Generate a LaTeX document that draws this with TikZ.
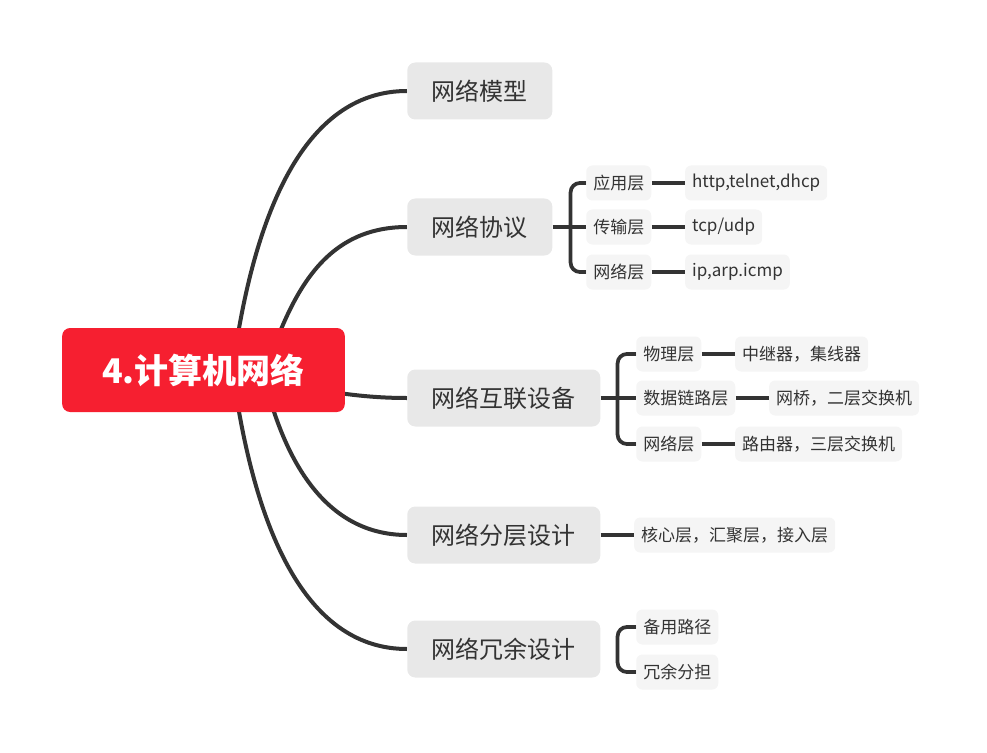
\documentclass[tikz,border=0pt]{standalone}
\usepackage{fontspec}
\setmainfont{Noto Sans CJK SC}
\usepackage{tikz}
\usetikzlibrary{positioning,calc,backgrounds}
\definecolor{rootred}{HTML}{F61F30}
\definecolor{topicgray}{HTML}{E8E8E8}
\definecolor{subgray}{HTML}{F5F5F5}
\definecolor{inkgray}{HTML}{333333}

\begin{document}
\begin{tikzpicture}[
        x=0.75pt, y=-0.75pt,
        node distance=25pt,
        root/.style={rectangle, rounded corners=6pt, fill=rootred, text=white, minimum width=212pt, minimum height=63pt, font=\fontsize{25.5pt}{30pt}\selectfont\bfseries},
        topic/.style={rectangle, rounded corners=6pt, fill=topicgray, text=inkgray, inner xsep=18.4pt, minimum height=42.75pt, font=\fontsize{18pt}{22pt}\selectfont},
        subtopic/.style={rectangle, rounded corners=4.5pt, fill=subgray, text=inkgray, inner xsep=5.25pt, minimum height=26.25pt, font=\fontsize{12.75pt}{15pt}\selectfont},
        branch/.style={draw=inkgray, line width=3pt},
        link/.style={draw=inkgray, line width=2.8pt}
    ]
        \useasboundingbox (0,0) rectangle (987,752);

        \node[root] (root) at (203.5,370) {4.计算机网络};

        \node[topic, anchor=west] (m1) at (407,91) {网络模型};
        \node[topic, anchor=west] (m2) at (407,227) {网络协议};
        \node[topic, anchor=west] (m3) at (407,398) {网络互联设备};
        \node[topic, anchor=west] (m4) at (407,535) {网络分层设计};
        \node[topic, anchor=west] (m5) at (407,649) {网络冗余设计};

        % 网络协议
        \node[subtopic, anchor=west] (p1) at (586,183) {应用层};
        \node[subtopic, anchor=west] (p2) at (586,227) {传输层};
        \node[subtopic, anchor=west] (p3) at (586,272) {网络层};
        \node[subtopic, right=of p1] (p1a) {http,telnet,dhcp};
        \node[subtopic, right=of p2] (p2a) {tcp/udp};
        \node[subtopic, right=of p3] (p3a) {ip,arp.icmp};

        % 网络互联设备
        \node[subtopic, anchor=west] (d1) at (636,354) {物理层};
        \node[subtopic, anchor=west] (d2) at (636,398) {数据链路层};
        \node[subtopic, anchor=west] (d3) at (636,444) {网络层};
        \node[subtopic, right=of d1] (d1a) {中继器，集线器};
        \node[subtopic, right=of d2] (d2a) {网桥，二层交换机};
        \node[subtopic, right=of d3] (d3a) {路由器，三层交换机};

        \node[subtopic, right=of m4] (l1) {核心层，汇聚层，接入层};

        \node[subtopic, anchor=west] (r1) at (636,627) {备用路径};
        \node[subtopic, anchor=west] (r2) at (636,672) {冗余分担};

        \begin{scope}[on background layer]
            \draw[branch] ($(root.center)+(29,0)$) .. controls +(23,-170) and +(-97,0) .. (m1.west);
            \draw[branch] ($(root.center)+(62,0)$) .. controls +(25,-70) and +(-87,0) .. (m2.west);
            \draw[branch] ($(root.center)+(90,15)$) .. controls +(40,8) and +(-40,0) .. (m3.west);
            \draw[branch] ($(root.center)+(59,0)$) .. controls +(18,80) and +(-87,0) .. (m4.west);
            \draw[branch] ($(root.center)+(29,0)$) .. controls +(23,170) and +(-97,0) .. (m5.west);

            \draw[link] (m2.east) -- (p2.west);
            \draw[link, rounded corners=7pt] (p1.west) -| ($(m2.east)+(18,0)$) |- (p3.west);
            \draw[link] (m3.east) -- (d2.west);
            \draw[link, rounded corners=7pt] (d1.west) -| ($(m3.east)+(17,0)$) |- (d3.west);
            \draw[link] (m4.east) -- (l1.west);
            \draw[link, rounded corners=7pt] (r1.west) -| ($(m5.east)+(17,0)$) |- (r2.west);

            \draw[link] (p1) -- (p1a);
            \draw[link] (p2) -- (p2a);
            \draw[link] (p3) -- (p3a);
            \draw[link] (d1) -- (d1a);
            \draw[link] (d2) -- (d2a);
            \draw[link] (d3) -- (d3a);
        \end{scope}
    \end{tikzpicture}
\end{document}
